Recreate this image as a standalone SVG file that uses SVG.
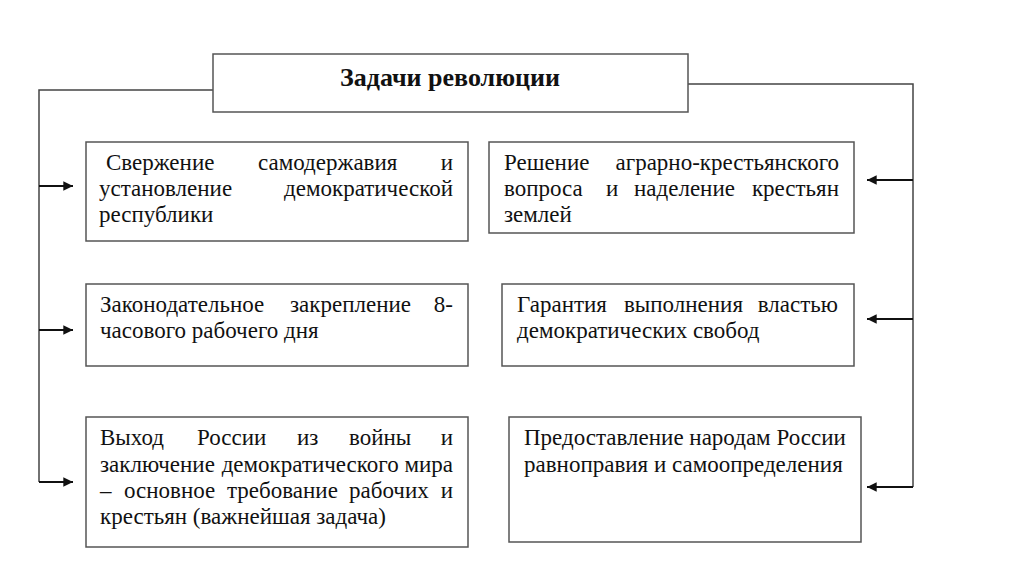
<svg xmlns="http://www.w3.org/2000/svg" width="1024" height="574" viewBox="0 0 1024 574">
<style>
.box{fill:#fff;stroke:#555;stroke-width:1.5}
.t{font-family:"Liberation Serif","Times New Roman",serif;font-size:23px;fill:#111}
.e{text-anchor:end}
.title{font-family:"Liberation Serif","Times New Roman",serif;font-size:26px;font-weight:bold;fill:#111}
.ln{fill:none;stroke:#444;stroke-width:1.5}
.ar{fill:none;stroke:#111;stroke-width:2.2;marker-end:url(#ah)}
</style>
<defs>
<marker id="ah" viewBox="0 0 10 10" refX="10" refY="5" markerWidth="5" markerHeight="4.4" orient="auto" markerUnits="strokeWidth">
<path d="M0,0 L10,5 L0,10 z" fill="#111"/>
</marker>
</defs>
<rect width="1024" height="574" fill="#fff"/>
<g id="connectors">
<path class="ln" d="M213,90 H39 V482"/>
<path class="ln" d="M688,84 H913 V487"/>
<path class="ar" d="M39,186 H73"/>
<path class="ar" d="M39,330 H73"/>
<path class="ar" d="M39,482 H73"/>
<path class="ar" d="M913,180 H867"/>
<path class="ar" d="M913,319 H867"/>
<path class="ar" d="M913,487 H867"/>
</g>
<g id="title">
<rect class="box" x="213" y="54" width="475" height="58"/>
<text class="title" x="450" y="86" text-anchor="middle">Задачи революции</text>
</g>
<g id="n1">
<rect class="box" x="86" y="142" width="382" height="99"/>
<text class="t" x="106" y="170">Свержение</text>
<text class="t" x="258" y="170">самодержавия</text>
<text class="t e" x="453" y="170">и</text>
<text class="t" x="99" y="196">установление</text>
<text class="t e" x="453" y="196">демократической</text>
<text class="t" x="99" y="222">республики</text>
</g>
<g id="n2">
<rect class="box" x="489" y="142" width="365" height="91"/>
<text class="t" x="504" y="170">Решение</text>
<text class="t e" x="839" y="170">аграрно-крестьянского</text>
<text class="t" x="504" y="196">вопроса</text>
<text class="t" x="606" y="196">и</text>
<text class="t" x="634" y="196">наделение</text>
<text class="t e" x="839" y="196">крестьян</text>
<text class="t" x="504" y="222">землей</text>
</g>
<g id="n3">
<rect class="box" x="86" y="284" width="382" height="82"/>
<text class="t" x="100" y="312">Законодательное</text>
<text class="t" x="290" y="312">закрепление</text>
<text class="t e" x="453" y="312">8-</text>
<text class="t" x="100" y="338">часового рабочего дня</text>
</g>
<g id="n4">
<rect class="box" x="502" y="284" width="352" height="82"/>
<text class="t" x="517" y="312">Гарантия</text>
<text class="t" x="624" y="312">выполнения</text>
<text class="t e" x="838" y="312">властью</text>
<text class="t" x="517" y="338">демократических свобод</text>
</g>
<g id="n5">
<rect class="box" x="86" y="417" width="382" height="130"/>
<text class="t" x="100" y="445">Выход</text>
<text class="t" x="197" y="445">России</text>
<text class="t" x="297" y="445">из</text>
<text class="t" x="349" y="445">войны</text>
<text class="t e" x="453" y="445">и</text>
<text class="t" x="100" y="472">заключение</text>
<text class="t e" x="453" y="472">демократического мира</text>
<text class="t" x="100" y="498">–</text>
<text class="t" x="124" y="498">основное</text>
<text class="t" x="227" y="498">требование</text>
<text class="t" x="349" y="498">рабочих</text>
<text class="t e" x="453" y="498">и</text>
<text class="t" x="100" y="524">крестьян (важнейшая задача)</text>
</g>
<g id="n6">
<rect class="box" x="509" y="417" width="352" height="125"/>
<text class="t" x="524" y="445">Предоставление народам России</text>
<text class="t" x="524" y="472">равноправия и самоопределения</text>
</g>
</svg>
